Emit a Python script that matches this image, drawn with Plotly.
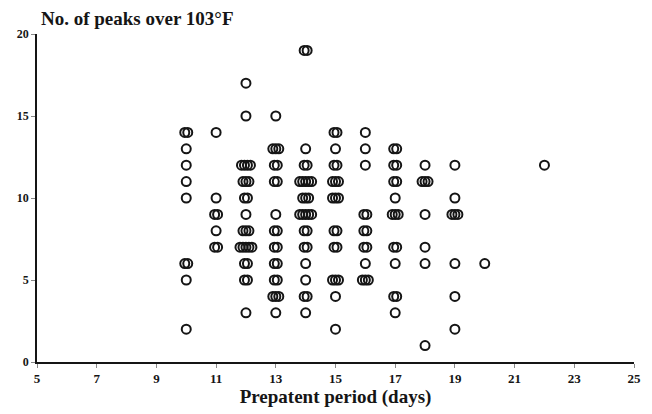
import plotly.graph_objects as go

# Prepatent period (days) vs. number of fever peaks over 103°F.
# Each column lists peak values and how many patients share that value.
days = [10, 10, 10, 10, 10, 10, 10, 10,
        11, 11, 11, 11, 11,
        12, 12, 12, 12, 12, 12, 12, 12, 12, 12, 12,
        13, 13, 13, 13, 13, 13, 13, 13, 13, 13, 13,
        14, 14, 14, 14, 14, 14, 14, 14, 14, 14, 14, 14,
        15, 15, 15, 15, 15, 15, 15, 15, 15, 15,
        16, 16, 16, 16, 16, 16, 16, 16,
        17, 17, 17, 17, 17, 17, 17, 17, 17,
        18, 18, 18, 18, 18, 18,
        19, 19, 19, 19, 19, 19,
        20, 22]
peaks = [14, 13, 12, 11, 10, 6, 5, 2,
         14, 10, 9, 8, 7,
         17, 15, 12, 11, 10, 9, 8, 7, 6, 5, 3,
         15, 13, 12, 11, 9, 8, 7, 6, 5, 4, 3,
         19, 13, 12, 11, 10, 9, 8, 7, 6, 5, 4, 3,
         14, 13, 12, 11, 10, 8, 7, 5, 4, 2,
         14, 13, 12, 9, 8, 7, 6, 5,
         13, 12, 11, 10, 9, 7, 6, 4, 3,
         12, 11, 9, 7, 6, 1,
         12, 10, 9, 6, 4, 2,
         6, 12]
counts = [2, 1, 1, 1, 1, 2, 1, 1,
          1, 1, 2, 1, 2,
          1, 1, 4, 3, 2, 1, 3, 5, 2, 2, 1,
          1, 3, 2, 2, 1, 2, 2, 2, 2, 3, 1,
          2, 1, 2, 5, 3, 5, 2, 2, 1, 1, 2, 1,
          2, 1, 2, 3, 3, 2, 2, 3, 1, 1,
          1, 1, 1, 2, 2, 2, 1, 3,
          2, 2, 2, 1, 3, 2, 1, 2, 1,
          1, 3, 1, 1, 1, 1,
          1, 1, 3, 1, 1, 1,
          1, 1]

x_ticks = [5, 7, 9, 11, 13, 15, 17, 19, 21, 23, 25]
y_ticks = [0, 5, 10, 15, 20]

# Expand tied observations side by side so overlapping patients stay visible
spread = 0.1
xs, ys = [], []
for d, p, n in zip(days, peaks, counts):
    for i in range(n):
        xs.append(d + (i - (n - 1) / 2) * spread)
        ys.append(p)

serif = "Liberation Serif, Times New Roman, serif"
ink = "#151515"

fig = go.Figure(go.Scatter(
    x=xs, y=ys, mode="markers",
    marker=dict(symbol="circle-open", size=9, color=ink,
                line=dict(width=2, color=ink)),
    hoverinfo="x+y",
))

fig.update_layout(
    width=652, height=414,
    margin=dict(l=37, r=11, t=34, b=52),
    paper_bgcolor="white", plot_bgcolor="white",
    showlegend=False,
    font=dict(family=serif, color=ink, size=12, weight="bold"),
    xaxis=dict(
        range=[5, 25], tickvals=x_ticks, ticktext=[str(v) for v in x_ticks],
        showgrid=False, zeroline=False, showline=True, linecolor=ink, linewidth=1.5,
        ticks="outside", ticklen=4, tickcolor="#888", tickwidth=1,
        tickfont=dict(family=serif, size=13, weight="bold", color=ink),
        title=dict(text="Prepatent period (days)", standoff=1,
                   font=dict(family=serif, size=19, weight="bold", color=ink)),
    ),
    yaxis=dict(
        range=[0, 20], tickvals=y_ticks, ticktext=[str(v) for v in y_ticks],
        showgrid=False, zeroline=False, showline=True, linecolor=ink, linewidth=1.5,
        ticks="outside", ticklen=4, tickcolor="#888", tickwidth=1,
        tickfont=dict(family=serif, size=12, weight="bold", color=ink),
    ),
    annotations=[dict(
        text="No. of peaks over 103°F", xref="paper", yref="paper",
        x=0.003, y=1.0, xanchor="left", yanchor="bottom", yshift=3,
        showarrow=False, font=dict(family=serif, size=19, weight="bold", color=ink),
    )],
)

fig.write_html("out.html")
